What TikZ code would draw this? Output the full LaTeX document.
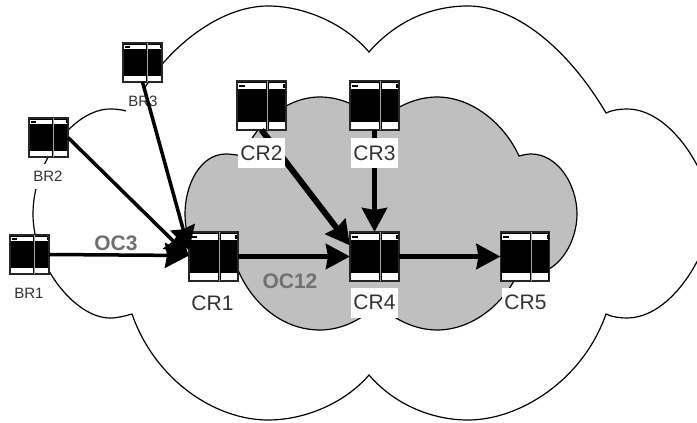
\documentclass[tikz,border=0pt]{standalone}
\usepackage{fontspec}
\setmainfont{Liberation Sans}
\usetikzlibrary{arrows.meta}
\definecolor{cloudgray}{HTML}{BFBFBF}
\definecolor{txt}{HTML}{333333}
\definecolor{oclabel}{HTML}{707070}
\tikzset{
  cloudline/.style={draw=black,line width=1.2pt,line join=miter},
  routerbox/.style={rectangle,draw=black!85,line width=1.1pt,fill=black,inner sep=0pt,outer sep=0pt,
    minimum width=#1,minimum height=#1},
  crlabel/.style={fill=white,text=txt,inner sep=0pt,minimum width=47pt,minimum height=30pt,font=\fontsize{21}{21}\selectfont},
  brlabel/.style={fill=white,text=txt,inner sep=0pt,minimum width=35pt,minimum height=25pt,font=\fontsize{15}{15}\selectfont},
  oclbl/.style={text=oclabel,inner sep=0pt,font=\fontsize{21}{21}\selectfont\bfseries},
  link/.style={-{Stealth[length=24pt,width=25pt,inset=2pt]},line width=#1,black},
}
\begin{document}
\begin{tikzpicture}[x=1pt,y=-1pt]
\useasboundingbox (0,0) rectangle (697,423);
\begin{scope}
\clip (0,0) rectangle (697,423);
% outer cloud
\path[cloudline,fill=white] (369,52)
  .. controls (395,22) and (430,6) .. (468,6)
  .. controls (520,6) and (572,55) .. (606,113)
  .. controls (612,110) and (620,109) .. (627,109)
  .. controls (672,109) and (710,175) .. (712,213)
  .. controls (710,252) and (672,318) .. (627,318)
  .. controls (620,318) and (612,317) .. (606,314)
  .. controls (583,380) and (520,420) .. (468,420)
  .. controls (430,420) and (393,403) .. (369,375)
  .. controls (345,403) and (305,420) .. (268,420)
  .. controls (215,420) and (155,380) .. (132,314)
  .. controls (125,316) and (118,318) .. (110,318)
  .. controls (75,318) and (33,265) .. (33,214)
  .. controls (33,160) and (75,109) .. (110,109)
  .. controls (118,109) and (125,110) .. (132,113)
  .. controls (150,65) and (210,6) .. (268,6)
  .. controls (305,6) and (345,24) .. (369,52) -- cycle;
% inner cloud
\path[cloudline,fill=cloudgray] (378,124)
  .. controls (392,108) and (415,97) .. (437,97)
  .. controls (473,97) and (505,125) .. (519,156)
  .. controls (523,155) and (527,154) .. (531,154)
  .. controls (558,154) and (577,185) .. (577,214)
  .. controls (577,243) and (558,274) .. (531,274)
  .. controls (527,274) and (523,273) .. (519,271)
  .. controls (505,303) and (473,330) .. (437,330)
  .. controls (415,330) and (392,319) .. (378,303)
  .. controls (364,319) and (342,330) .. (320,330)
  .. controls (282,330) and (252,303) .. (238,270)
  .. controls (233,273) and (229,274) .. (226,274)
  .. controls (200,274) and (185,243) .. (185,214)
  .. controls (185,185) and (200,154) .. (226,154)
  .. controls (231,154) and (237,155) .. (243,156)
  .. controls (255,125) and (285,97) .. (320,97)
  .. controls (342,97) and (365,108) .. (378,124) -- cycle;
\end{scope}
% small labels lie under the connectors
\node[brlabel] (lbr3) at (143,101) {BR3};
\node[brlabel] (lbr2) at (48,176.5) {BR2};
\node[brlabel] (lbr1) at (29,293) {BR1};
% routers
\node[routerbox=39pt] (br3) at (142.5,62.5) {};
\node[routerbox=39pt] (br2) at (48.5,137.5) {};
\node[routerbox=39pt] (br1) at (29.5,254.5) {};
\node[routerbox=49pt] (cr1) at (213.5,256.5) {};
\node[routerbox=49pt] (cr2) at (261.5,105.5) {};
\node[routerbox=49pt] (cr3) at (374.5,105.5) {};
\node[routerbox=49pt] (cr4) at (374.5,256.5) {};
\node[routerbox=49pt] (cr5) at (525,256.5) {};
% router faces
\foreach \n/\s in {br1/.39,br2/.39,br3/.39,cr1/.49,cr2/.49,cr3/.49,cr4/.49,cr5/.49}{
  \begin{scope}[shift={(\n.north west)},x=\s pt,y=-\s pt]
    \fill[white] (3,4) rectangle (60,16);
    \fill[white] (65,4) rectangle (97,16);
    \fill[white] (3,84) rectangle (60,97);
    \fill[white] (65,84) rectangle (97,97);
    \fill[black] (5,8) rectangle (17,12);
    \fill[black] (94,6) rectangle (97,14);
    \draw[gray!70,line width=.8pt] (62.5,0) -- (62.5,100);
  \end{scope}
}
% connectors
\draw[link=3.5pt] (br1.east) -- ([yshift=1pt]cr1.west);
\draw[link=3.5pt] (br2.east) -- (cr1.west);
\draw[link=3.5pt] (br3.south) -- ([yshift=6pt]cr1.west);
\draw[link=6pt] (cr2.south) -- ([yshift=11pt]cr4.west);
\draw[link=5pt] (cr1.east) -- (cr4.west);
\draw[link=5pt] (cr3.south) -- (cr4.north);
\draw[link=5pt] (cr4.east) -- (cr5.west);
% large labels cover the connectors
\node[crlabel] (lcr1) at (212.5,303) {CR1};
\node[crlabel] (lcr2) at (261.5,153) {CR2};
\node[crlabel] (lcr3) at (374.5,153) {CR3};
\node[crlabel] (lcr4) at (374.5,302.5) {CR4};
\node[crlabel] (lcr5) at (525.5,302.5) {CR5};
\node[oclbl] (oc3) at (116,243) {OC3};
\node[oclbl] (oc12) at (290,281) {OC12};
\end{tikzpicture}
\end{document}
